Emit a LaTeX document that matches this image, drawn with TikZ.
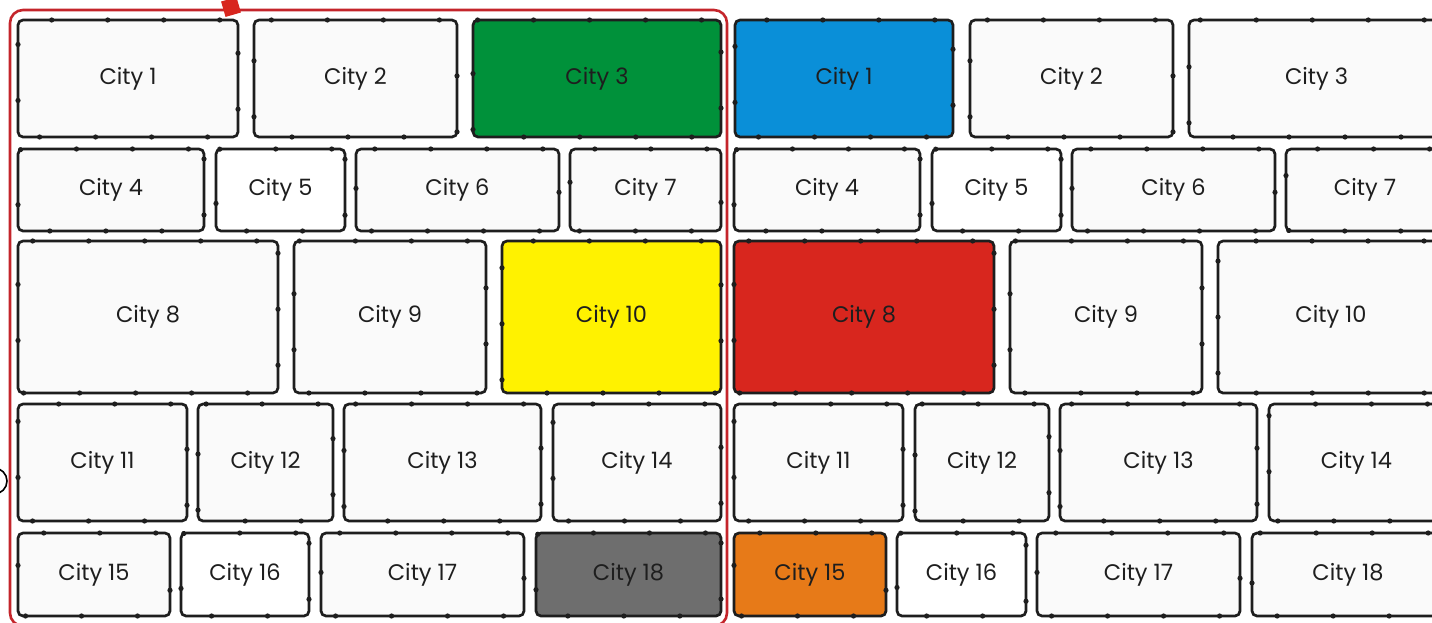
\documentclass[tikz,border=0pt]{standalone}
\usepackage{fontspec}
\setmainfont{Poppins}
\usetikzlibrary{decorations.markings}
\definecolor{cgreen}{HTML}{00913A}
\definecolor{cblue}{HTML}{0A8FD8}
\definecolor{cyellow}{HTML}{FFF200}
\definecolor{cred}{HTML}{D8261E}
\definecolor{cgray}{HTML}{6E6E6E}
\definecolor{corange}{HTML}{E77A18}
\definecolor{cwhite}{HTML}{FAFAFA}
\definecolor{cink}{HTML}{1E1E1E}
\definecolor{frame}{HTML}{C4252B}
\tikzset{
  citybox/.style={draw=cink, line width=2.7pt, rounded corners=5pt,
    inner sep=0pt, outer sep=0pt, text=cink,
    font=\fontsize{22.5}{26}\selectfont,
    postaction={decorate, decoration={markings,
      mark=between positions 0.02 and 0.99 step 56pt with {\fill[cink] (0,0) circle (2.6pt);}}}},
}
\newcommand\cbox[7]{%
  \pgfmathsetmacro\cw{#4-#2}\pgfmathsetmacro\ch{#5-#3}%
  \node[citybox, fill=#6, minimum width=\cw pt, minimum height=\ch pt] (#1) at ({(#2+#4)/2},{(#3+#5)/2}) {#7};}
\begin{document}
\begin{tikzpicture}[x=1pt,y=-1pt]
\useasboundingbox (0,0) rectangle (1432,622);
\fill[white] (0,0) rectangle (1432,622);
% left grid
\cbox{la1}{18}{20}{238}{137}{cwhite}{City 1}
\cbox{la2}{254}{20}{457}{137}{cwhite}{City 2}
\cbox{la3}{473}{20}{721}{137}{cgreen}{City 3}
\cbox{la4}{18}{149}{204}{231}{cwhite}{City 4}
\cbox{la5}{216}{149}{345}{231}{white}{City 5}
\cbox{la6}{356}{149}{559}{231}{cwhite}{City 6}
\cbox{la7}{570}{149}{721}{231}{cwhite}{City 7}
\cbox{la8}{18}{241}{278}{393}{cwhite}{City 8}
\cbox{la9}{294}{241}{486}{393}{cwhite}{City 9}
\cbox{la10}{502}{241}{721}{393}{cyellow}{City 10}
\cbox{la11}{18}{404}{187}{521}{cwhite}{City 11}
\cbox{la12}{198}{404}{333}{521}{cwhite}{City 12}
\cbox{la13}{344}{404}{541}{521}{cwhite}{City 13}
\cbox{la14}{553}{404}{721}{521}{cwhite}{City 14}
\cbox{la15}{18}{533}{170}{616}{cwhite}{City 15}
\cbox{la16}{181}{533}{309}{616}{white}{City 16}
\cbox{la17}{321}{533}{524}{616}{cwhite}{City 17}
\cbox{la18}{536}{533}{721}{616}{cgray}{City 18}
% right grid
\cbox{ra1}{735}{20}{953}{137}{cblue}{City 1}
\cbox{ra2}{970}{20}{1173}{137}{cwhite}{City 2}
\cbox{ra3}{1189}{20}{1444}{137}{cwhite}{City 3}
\cbox{ra4}{734}{149}{920}{231}{cwhite}{City 4}
\cbox{ra5}{932}{149}{1061}{231}{white}{City 5}
\cbox{ra6}{1072}{149}{1275}{231}{cwhite}{City 6}
\cbox{ra7}{1286}{149}{1444}{231}{cwhite}{City 7}
\cbox{ra8}{734}{241}{994}{393}{cred}{City 8}
\cbox{ra9}{1010}{241}{1202}{393}{cwhite}{City 9}
\cbox{ra10}{1218}{241}{1444}{393}{cwhite}{City 10}
\cbox{ra11}{734}{404}{903}{521}{cwhite}{City 11}
\cbox{ra12}{915}{404}{1049}{521}{cwhite}{City 12}
\cbox{ra13}{1060}{404}{1257}{521}{cwhite}{City 13}
\cbox{ra14}{1269}{404}{1444}{521}{cwhite}{City 14}
\cbox{ra15}{734}{533}{886}{616}{corange}{City 15}
\cbox{ra16}{897}{533}{1026}{616}{white}{City 16}
\cbox{ra17}{1037}{533}{1240}{616}{cwhite}{City 17}
\cbox{ra18}{1252}{533}{1444}{616}{cwhite}{City 18}
% red frame and handle
\node[draw=frame, line width=2.6pt, rounded corners=13pt, minimum width=717pt, minimum height=616pt, inner sep=0pt] (sel) at (368.5,318) {};
\node[fill=cred, minimum size=16pt, inner sep=0pt, rotate=16] (handle) at (231,7) {};
% partial circle at left edge
\node[draw=black, line width=1.6pt, circle, minimum size=26pt, inner sep=0pt] (knob) at (-6,481) {};
\end{tikzpicture}
\end{document}
